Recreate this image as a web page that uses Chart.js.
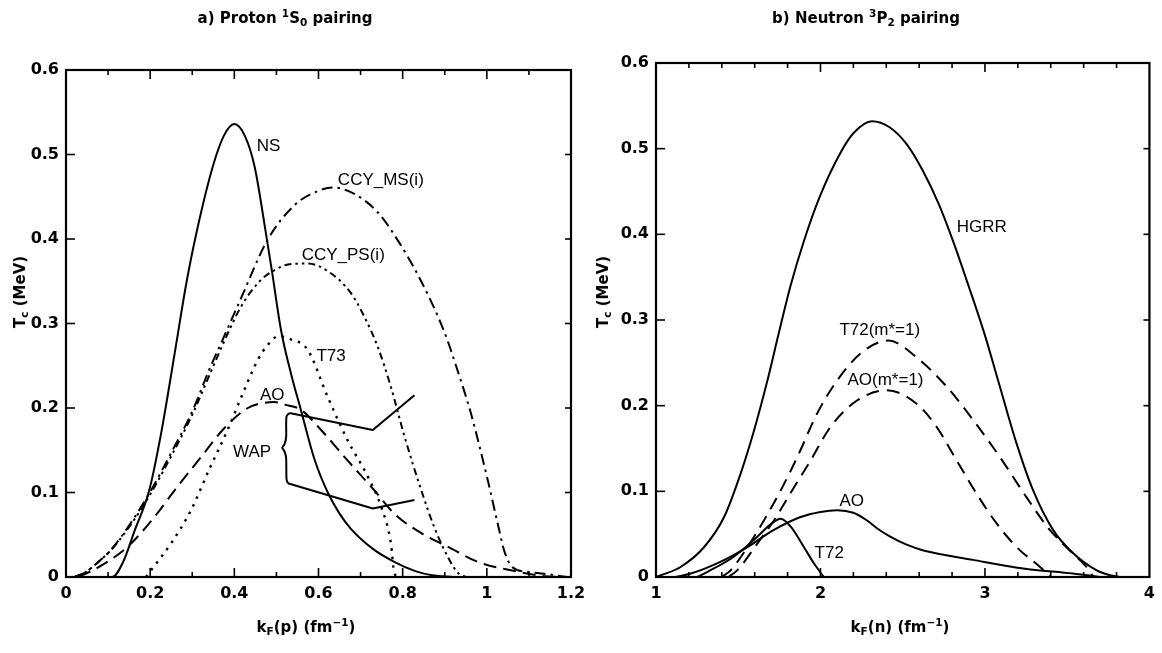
<!DOCTYPE html>
<html>
<head>
<meta charset="utf-8">
<script src="https://cdn.jsdelivr.net/npm/chart.js@4.4.1/dist/chart.umd.min.js"></script>
<style>
  html, body { margin:0; padding:0; background:#fff; }
  body { width:1162px; height:653px; position:relative; overflow:hidden; font-family:'DejaVu Sans', sans-serif; color:#000; }
  .wrap { position:absolute; top:0; height:653px; }
  .tt { position:absolute; transform:translate(-50%,-50%); font:bold 15px 'DejaVu Sans', sans-serif; white-space:nowrap; }
  .yt { position:absolute; transform:translate(-50%,-50%) rotate(-90deg); font:bold 15px 'DejaVu Sans', sans-serif; white-space:nowrap; }
  .xt { position:absolute; transform:translate(-50%,-50%); font:bold 15px 'DejaVu Sans', sans-serif; white-space:nowrap; }
  sup, sub { font-size:70%; line-height:0; position:relative; vertical-align:baseline; }
  sup { top:-0.55em; }
  sub { top:0.3em; }
</style>
</head>
<body>
<div class="wrap" style="left:0;width:600px;"><canvas id="cl"></canvas></div>
<div class="wrap" style="left:580px;width:582px;"><canvas id="cr"></canvas></div>

<div class="tt" style="left:285px;top:18px;">a) Proton <sup>1</sup>S<sub>0</sub> pairing</div>
<div class="tt" style="left:866px;top:18px;">b) Neutron <sup>3</sup>P<sub>2</sub> pairing</div>
<div class="yt" style="left:20px;top:292px;">T<sub>c</sub> (MeV)</div>
<div class="yt" style="left:603px;top:292px;">T<sub>c</sub> (MeV)</div>
<div class="xt" style="left:306px;top:627px;">k<sub>F</sub>(p) (fm<sup>−1</sup>)</div>
<div class="xt" style="left:900px;top:627px;">k<sub>F</sub>(n) (fm<sup>−1</sup>)</div>

<script>
// ---------- Panel a) Proton 1S0 pairing ----------
const nsX = [0.10,0.11,0.135,0.164,0.198,0.226,0.26,0.285,0.309,0.349,0.375,0.40,0.425,0.448,0.475,0.49,0.511,0.535,0.558,0.59,0.622,0.65,0.677,0.73,0.78,0.83,0.87,0.92];
const nsY = [0,0,0.017,0.056,0.103,0.17,0.27,0.345,0.405,0.486,0.522,0.536,0.522,0.486,0.407,0.36,0.292,0.24,0.198,0.14,0.10,0.075,0.057,0.033,0.018,0.007,0.002,0];

const msX = [0.02,0.044,0.075,0.107,0.154,0.198,0.25,0.30,0.34,0.376,0.416,0.479,0.543,0.60,0.634,0.67,0.70,0.74,0.78,0.844,0.899,0.93,0.962,1.002,1.025,1.042,1.06,1.10,1.15,1.19];
const msY = [0,0.005,0.017,0.032,0.064,0.099,0.147,0.196,0.245,0.285,0.33,0.399,0.44,0.457,0.461,0.457,0.449,0.432,0.405,0.35,0.29,0.245,0.194,0.115,0.065,0.03,0.012,0.006,0.003,0];

const psX = [0.02,0.044,0.075,0.107,0.154,0.198,0.25,0.30,0.34,0.376,0.416,0.46,0.495,0.53,0.574,0.622,0.677,0.709,0.741,0.772,0.804,0.844,0.875,0.907,0.931,0.95];
const psY = [0,0.005,0.017,0.032,0.062,0.096,0.143,0.192,0.238,0.279,0.32,0.35,0.363,0.37,0.371,0.362,0.336,0.308,0.272,0.225,0.167,0.103,0.059,0.024,0.005,0];

const t73X = [0.19,0.202,0.25,0.297,0.34,0.384,0.42,0.456,0.48,0.505,0.53,0.574,0.622,0.669,0.717,0.749,0.772,0.78,0.79];
const t73Y = [0,0.008,0.04,0.079,0.127,0.174,0.217,0.257,0.275,0.285,0.282,0.269,0.213,0.162,0.119,0.083,0.04,0.005,0];

const aoLX = [0.03,0.075,0.147,0.21,0.265,0.321,0.376,0.432,0.47,0.495,0.52,0.558,0.606,0.669,0.732,0.78,0.844,0.907,0.978,1.057,1.137,1.18];
const aoLY = [0,0.011,0.036,0.071,0.107,0.142,0.176,0.2,0.206,0.207,0.204,0.198,0.174,0.138,0.103,0.075,0.052,0.036,0.018,0.008,0.001,0];

const wapUpX = [0.531,0.729,0.828];
const wapUpY = [0.194,0.174,0.215];
const wapLoX = [0.527,0.729,0.828];
const wapLoY = [0.111,0.081,0.091];
const wapBrX = [0.531,0.524,0.523,0.519,0.514,0.519,0.523,0.524,0.527];
const wapBrY = [0.194,0.19,0.165,0.157,0.153,0.149,0.141,0.116,0.111];

const leftLabelText = ['NS','CCY_MS(i)','CCY_PS(i)','T73','AO','WAP'];
const leftLabelX = [0.453,0.646,0.56,0.595,0.461,0.397];
const leftLabelY = [0.51,0.47,0.381,0.261,0.215,0.148];

const leftXTicks = [0,0.2,0.4,0.6,0.8,1,1.2];
const yTicks = [0,0.1,0.2,0.3,0.4,0.5,0.6];

// ---------- Panel b) Neutron 3P2 pairing ----------
const hgX = [1.0,1.03,1.152,1.293,1.414,1.515,1.596,1.677,1.747,1.818,1.899,2.0,2.121,2.2,2.313,2.42,2.525,2.62,2.72,2.81,2.90,3.0,3.091,3.192,3.293,3.414,3.535,3.677,3.76,3.82];
const hgY = [0,0.002,0.012,0.035,0.07,0.121,0.171,0.229,0.285,0.34,0.392,0.446,0.495,0.518,0.532,0.525,0.505,0.475,0.435,0.39,0.34,0.282,0.222,0.156,0.101,0.055,0.028,0.008,0.002,0];

const t72mX = [1.40,1.455,1.556,1.656,1.758,1.859,1.98,2.1,2.25,2.414,2.586,2.768,2.929,3.091,3.253,3.394,3.515,3.616,3.66];
const t72mY = [0,0.008,0.035,0.066,0.101,0.14,0.191,0.229,0.262,0.276,0.256,0.222,0.183,0.14,0.093,0.055,0.031,0.012,0];

const aomX = [1.44,1.495,1.616,1.717,1.818,1.94,2.06,2.222,2.404,2.586,2.707,2.828,2.95,3.071,3.192,3.333,3.40];
const aomY = [0,0.008,0.039,0.066,0.098,0.136,0.175,0.206,0.218,0.202,0.175,0.136,0.097,0.0625,0.035,0.012,0];

const aoX = [1.12,1.212,1.394,1.556,1.717,1.879,2.0,2.101,2.2,2.283,2.35,2.424,2.52,2.626,2.929,3.232,3.535,3.7];
const aoY = [0,0.004,0.018,0.035,0.055,0.070,0.076,0.078,0.075,0.066,0.056,0.047,0.038,0.031,0.020,0.010,0.004,0];

const t72X = [1.25,1.313,1.475,1.616,1.70,1.758,1.818,1.899,1.96,2.02];
const t72Y = [0,0.006,0.024,0.047,0.062,0.068,0.059,0.035,0.016,0];

const rightLabelText = ['HGRR','T72(m*=1)','AO(m*=1)','AO','T72'];
const rightLabelX = [2.828,2.115,2.164,2.115,1.964];
const rightLabelY = [0.408,0.288,0.23,0.088,0.028];

const rightXTicks = [1,2,3,4];

// ---------- helpers ----------
const pts = (xs, ys) => xs.map((x, i) => ({x, y: ys[i]}));
function ds(label, xs, ys, dash, extra) {
  return Object.assign({
    label, data: pts(xs, ys), borderColor:'#000', borderWidth:2, borderDash: dash || [],
    pointRadius:0, fill:false, cubicInterpolationMode:'monotone', borderCapStyle:'butt', borderJoinStyle:'round'
  }, extra || {});
}

const frameTicks = {
  id:'frameTicks',
  afterDatasetsDraw(chart, args, o) {
    const {ctx, chartArea:{left, right, top, bottom}, scales:{x, y}} = chart;
    ctx.save();
    ctx.strokeStyle = '#000';
    ctx.lineWidth = 1.6;
    const line = (x1, y1, x2, y2) => { ctx.beginPath(); ctx.moveTo(x1, y1); ctx.lineTo(x2, y2); ctx.stroke(); };
    const nX = Math.round((x.max - x.min) / o.xMinor);
    for (let i = 1; i < nX; i++) {
      const v = x.min + i * o.xMinor;
      const r = (v - x.min) / o.xMajor;
      const major = Math.abs(r - Math.round(r)) < 1e-6;
      const L = major ? 9 : 5;
      const px = x.getPixelForValue(v);
      line(px, bottom, px, bottom - L);
      line(px, top, px, top + L);
    }
    const nY = Math.round((y.max - y.min) / o.yStep);
    for (let i = 1; i < nY; i++) {
      const py = y.getPixelForValue(y.min + i * o.yStep);
      line(left, py, left + 9, py);
      line(right, py, right - 6, py);
    }
    ctx.lineWidth = 2.2;
    ctx.strokeRect(left, top, right - left, bottom - top);
    ctx.restore();
  }
};

const curveLabels = {
  id:'curveLabels',
  afterDatasetsDraw(chart, args, o) {
    const {ctx, scales:{x, y}} = chart;
    ctx.save();
    ctx.fillStyle = '#000';
    ctx.font = '17px "Liberation Sans", Arial, sans-serif';
    ctx.textBaseline = 'middle';
    ctx.textAlign = 'left';
    o.text.forEach((t, i) => ctx.fillText(t, x.getPixelForValue(o.xs[i]), y.getPixelForValue(o.ys[i])));
    ctx.restore();
  }
};

function makeChart(id, datasets, xr, xTickVals, xStep, pad, yW, xH, tickOpt, lab) {
  return new Chart(document.getElementById(id), {
    type:'line',
    data:{ datasets },
    options:{
      responsive:true, maintainAspectRatio:false, animation:false,
      layout:{ padding: pad },
      plugins:{ legend:{display:false}, tooltip:{enabled:false}, title:{display:false},
        frameTicks: tickOpt, curveLabels: lab },
      scales:{
        x:{ type:'linear', min:xr[0], max:xr[1],
            grid:{display:false, drawTicks:false}, border:{display:false},
            afterBuildTicks: s => { s.ticks = xTickVals.map(v => ({value:v})); },
            ticks:{ stepSize:xStep, padding:7, color:'#000', maxRotation:0, autoSkip:false,
                    font:{family:'DejaVu Sans', weight:'bold', size:16},
                    callback: v => String(+v.toFixed(2)) },
            afterFit: s => { s.height = xH; } },
        y:{ type:'linear', min:0, max:0.6,
            grid:{display:false, drawTicks:false}, border:{display:false},
            afterBuildTicks: s => { s.ticks = yTicks.map(v => ({value:v})); },
            ticks:{ stepSize:0.1, padding:7, color:'#000',
                    font:{family:'DejaVu Sans', weight:'bold', size:16},
                    callback: v => String(+v.toFixed(2)) },
            afterFit: s => { s.width = yW; } }
      }
    },
    plugins:[frameTicks, curveLabels]
  });
}

makeChart('cl', [
  ds('NS', nsX, nsY),
  ds('CCY_MS(i)', msX, msY, [11,5,2.5,5]),
  ds('CCY_PS(i)', psX, psY, [7,4,2.5,4,2.5,4]),
  ds('T73', t73X, t73Y, [2.5,6], {borderWidth:2.4}),
  ds('AO', aoLX, aoLY, [13,7]),
  ds('WAP', wapUpX, wapUpY, [], {cubicInterpolationMode:'default', tension:0}),
  ds('WAP lower', wapLoX, wapLoY, [], {cubicInterpolationMode:'default', tension:0}),
  ds('WAP brace', wapBrX, wapBrY, [], {cubicInterpolationMode:'default', tension:0.3})
], [0, 1.2], leftXTicks, 0.2, {left:0, top:70, right:29, bottom:0}, 66, 76,
  {xMinor:0.1, xMajor:0.2, yStep:0.1},
  {text:leftLabelText, xs:leftLabelX, ys:leftLabelY});

makeChart('cr', [
  ds('HGRR', hgX, hgY),
  ds('T72(m*=1)', t72mX, t72mY, [13,8]),
  ds('AO(m*=1)', aomX, aomY, [13,8]),
  ds('AO', aoX, aoY),
  ds('T72', t72X, t72Y)
], [1, 4], rightXTicks, 1, {left:0, top:63, right:11, bottom:0}, 76, 76,
  {xMinor:0.2, xMajor:1, yStep:0.1},
  {text:rightLabelText, xs:rightLabelX, ys:rightLabelY});
</script>
</body>
</html>
